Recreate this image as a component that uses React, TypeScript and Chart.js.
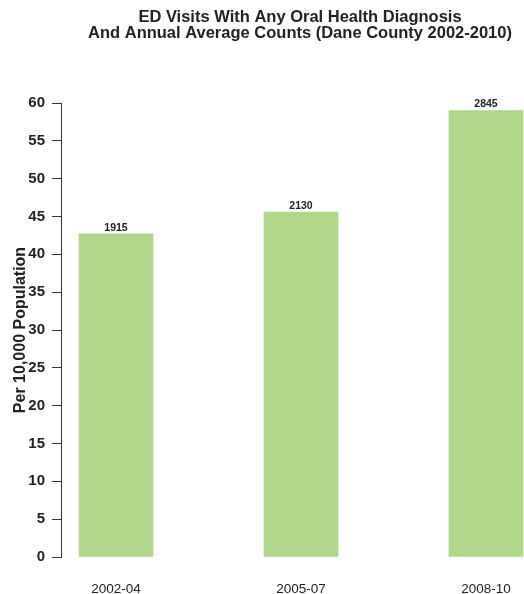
import React, { useEffect, useRef } from "react";
import { Chart, registerables } from "chart.js";

Chart.register(...registerables);

// Period categories, rates per 10,000 population and annual average counts
const periods = ["2002-04", "2005-07", "2008-10"];
const ratePer10k = [42.7, 45.6, 59.0];
const annualCounts = [1915, 2130, 2845];
const yTicks = [0, 5, 10, 15, 20, 25, 30, 35, 40, 45, 50, 55, 60];
const titleLines = [
  "ED Visits With Any Oral Health Diagnosis",
  "And Annual Average Counts (Dane County 2002-2010)",
];

const FONT = "'Liberation Sans', Arial, Helvetica, sans-serif";
const TEXT = "#222222";
const BAR = "#b0d68a";

// Two-line heading drawn across the top of the canvas
const headingPlugin = {
  id: "heading",
  afterDraw(chart: any) {
    const { ctx } = chart;
    ctx.save();
    ctx.fillStyle = TEXT;
    ctx.font = `bold 16.5px ${FONT}`;
    ctx.textAlign = "center";
    ctx.textBaseline = "middle";
    titleLines.forEach((line, i) => ctx.fillText(line, 300, 17 + i * 16.5));
    ctx.restore();
  },
};

// Count labels written just above each bar
const countLabelPlugin = {
  id: "countLabels",
  afterDatasetsDraw(chart: any) {
    const { ctx } = chart;
    const meta = chart.getDatasetMeta(0);
    ctx.save();
    ctx.fillStyle = TEXT;
    ctx.font = `bold 10.5px ${FONT}`;
    ctx.textAlign = "center";
    ctx.textBaseline = "bottom";
    meta.data.forEach((bar: any, i: number) => {
      ctx.fillText(String(annualCounts[i]), bar.x, bar.y - 1);
    });
    ctx.restore();
  },
};

export default function App() {
  const canvasRef = useRef<HTMLCanvasElement | null>(null);

  useEffect(() => {
    if (!canvasRef.current) return;
    const chart = new Chart(canvasRef.current, {
      type: "bar",
      data: {
        datasets: [
          {
            data: ratePer10k.map((v, i) => ({ x: i, y: v })),
            backgroundColor: BAR,
            borderWidth: 0,
            barThickness: 74,
          },
        ],
      },
      options: {
        animation: false,
        responsive: true,
        maintainAspectRatio: false,
        layout: { padding: { top: 103, right: 0, bottom: 0, left: 0 } },
        plugins: {
          legend: { display: false },
          tooltip: { enabled: false },
          title: { display: false },
        },
        scales: {
          x: {
            type: "linear",
            offset: false,
            min: -0.2973,
            max: 2.2054,
            afterBuildTicks(scale: any) {
              scale.ticks = periods.map((_, i) => ({ value: i }));
            },
            afterFit(scale: any) {
              scale.height = 37;
              scale.paddingLeft = 0;
              scale.paddingRight = 0;
            },
            ticks: {
              callback: (v: any) => periods[Number(v)] ?? "",
              color: TEXT,
              font: { family: FONT, size: 13.5 },
              padding: 24,
              autoSkip: false,
              maxRotation: 0,
            },
            grid: { display: false, drawTicks: false, offset: false },
            border: { display: false },
          },
          y: {
            min: 0,
            max: 60,
            afterBuildTicks(scale: any) {
              scale.ticks = yTicks.map((v) => ({ value: v }));
            },
            afterFit(scale: any) {
              scale.width = 61;
            },
            ticks: {
              color: TEXT,
              font: { family: FONT, size: 15, weight: "bold" },
              padding: 7,
            },
            grid: {
              drawOnChartArea: false,
              drawTicks: true,
              tickLength: 9,
              color: "#333333",
              lineWidth: 1,
            },
            border: { display: true, color: "#333333", width: 1 },
            title: {
              display: true,
              text: "Per 10,000 Population",
              color: TEXT,
              font: { family: FONT, size: 16, weight: "bold" },
              padding: { top: 11, bottom: 0 },
            },
          },
        },
      },
      plugins: [headingPlugin, countLabelPlugin],
    } as any);
    return () => chart.destroy();
  }, []);

  return (
    <div
      style={{
        position: "fixed",
        left: 0,
        top: 0,
        width: 524,
        height: 594,
        background: "#ffffff",
      }}
    >
      <canvas ref={canvasRef} />
    </div>
  );
}
